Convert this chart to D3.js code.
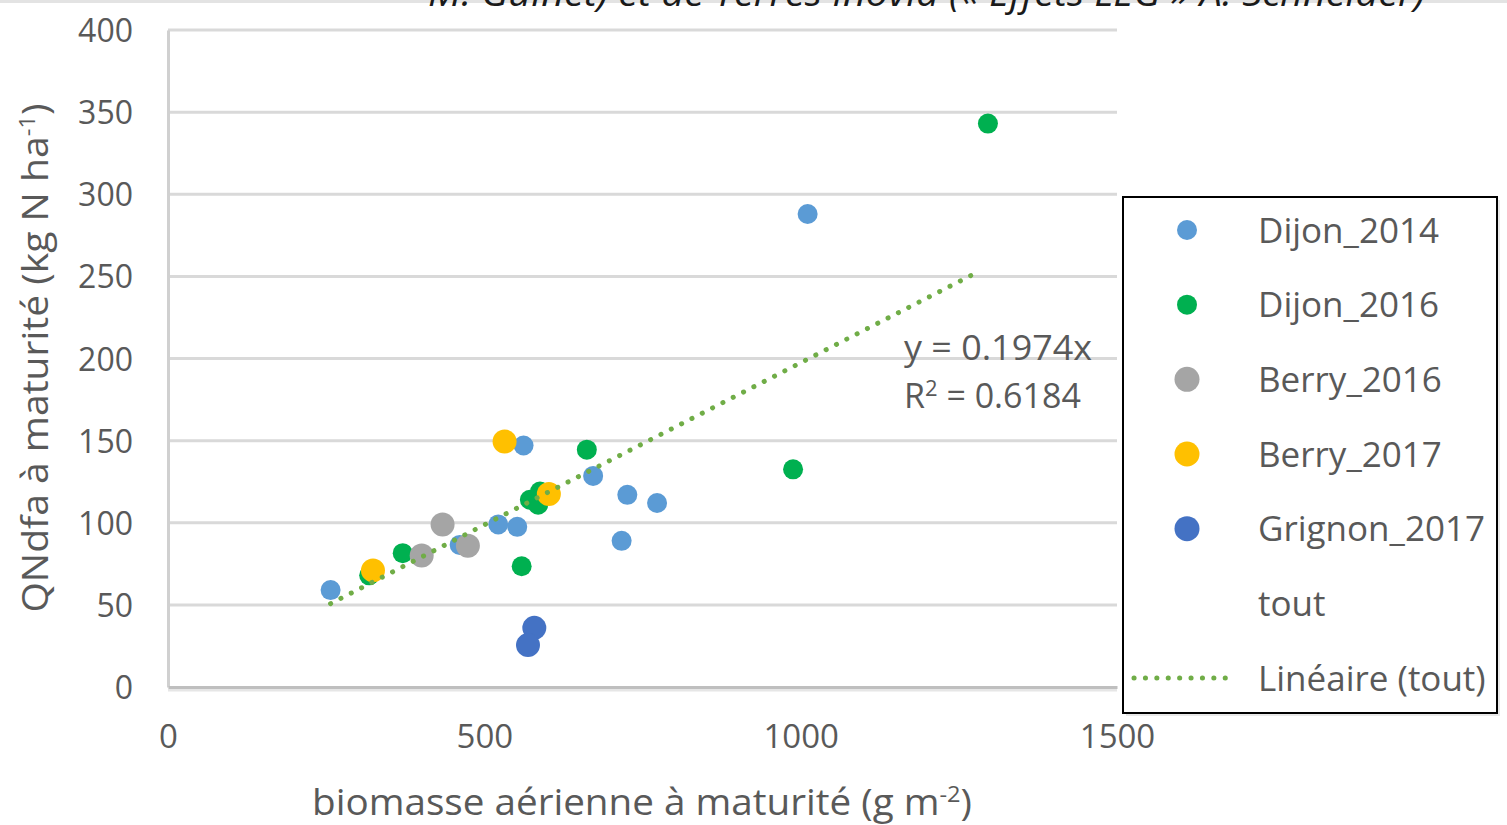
<!DOCTYPE html>
<html>
<head>
<meta charset="utf-8">
<script src="https://cdn.jsdelivr.net/npm/d3@7"></script>
<style>
  body { margin: 0; background: #fff; }
  text { font-family: "Open Sans", "Liberation Sans", sans-serif; fill: #595959; }
</style>
</head>
<body>
<div id="chart"></div>
<script>
// series values: [biomasse g m-2, QNdfa kg N ha-1]
const dijon2014 = [[257, 59], [562, 147], [672, 128.5], [726, 117], [773, 112], [717, 89], [522, 99], [552, 97.5], [461, 86.5], [1011, 288]];
const dijon2016 = [[662, 144.5], [572, 114], [588, 119], [585, 111], [371, 81.5], [318, 68], [559, 73.5], [1296, 343], [988, 132.5]];
const berry2016 = [[434, 99], [474, 86], [401, 80]];
const berry2017 = [[532, 149.5], [602, 117.5], [324, 71]];
const grignon2017 = [[579, 36], [569, 25.5]];

const seriesNames = ["Dijon_2014", "Dijon_2016", "Berry_2016", "Berry_2017", "Grignon_2017", "tout", "Linéaire (tout)"];
const xTicks = [0, 500, 1000, 1500];
const yTicks = [0, 50, 100, 150, 200, 250, 300, 350, 400];

// linear trend through origin
const slope = 0.1974;
const r2 = 0.6184;
const trendRange = [257, 1283];

const width = 1507, height = 825;

const series = [
  { name: seriesNames[0], values: dijon2014, color: "#5B9BD5", r: 10 },
  { name: seriesNames[1], values: dijon2016, color: "#00B050", r: 10 },
  { name: seriesNames[2], values: berry2016, color: "#A5A5A5", r: 12 },
  { name: seriesNames[3], values: berry2017, color: "#FFC000", r: 12 },
  { name: seriesNames[4], values: grignon2017, color: "#4472C4", r: 12 }
];

const svg = d3.select("#chart").append("svg")
  .attr("width", width)
  .attr("height", height);

const x = d3.scaleLinear().domain([0, 1500]).range([168, 1117]);
const y = d3.scaleLinear().domain([0, 400]).range([687, 30]);

// cut-off caption line at the very top (cropped in the source too)
svg.append("rect").attr("x", 0).attr("y", 0).attr("width", width).attr("height", 3).attr("fill", "#e3e3e3");
svg.append("text")
  .attr("x", 428).attr("y", 6)
  .attr("textLength", 997).attr("lengthAdjust", "spacingAndGlyphs")
  .style("font-style", "italic").style("font-size", "36px").style("fill", "#1a1a1a")
  .text("M. Guinet) et de Terres Inovia (« Effets LEG » A. Schneider)");

// gridlines
svg.append("g")
  .selectAll("line")
  .data(yTicks.filter(d => d > 0))
  .join("line")
  .attr("x1", x(0)).attr("x2", x(1500))
  .attr("y1", d => y(d)).attr("y2", d => y(d))
  .attr("stroke", "#d9d9d9").attr("stroke-width", 3);

// axes
const yAxis = d3.axisLeft(y).tickValues(yTicks).tickSize(0).tickPadding(35);
svg.append("g")
  .attr("transform", `translate(${x(0)},0)`)
  .call(yAxis)
  .call(g => g.select(".domain").attr("stroke", "#d0d0d0").attr("stroke-width", 3))
  .call(g => g.selectAll("text").style("font-size", "32px").attr("fill", "#595959").attr("dy", "0.36em"));

const xAxis = d3.axisBottom(x).tickValues(xTicks).tickSize(0).tickPadding(38).tickFormat(d3.format("d"));
svg.append("line")
  .attr("x1", x(0)).attr("x2", x(1500)).attr("y1", y(0) + 3).attr("y2", y(0) + 3)
  .attr("stroke", "#e6e6e6").attr("stroke-width", 3);
svg.append("g")
  .attr("transform", `translate(0,${y(0)})`)
  .call(xAxis)
  .call(g => g.select(".domain").attr("stroke", "#bfbfbf").attr("stroke-width", 3))
  .call(g => g.selectAll("text").style("font-size", "33px").attr("fill", "#595959"));

// axis titles
svg.append("text")
  .attr("text-anchor", "middle")
  .attr("x", 642).attr("y", 815)
  .attr("textLength", 660).attr("lengthAdjust", "spacingAndGlyphs")
  .style("font-size", "36px")
  .html("biomasse aérienne à maturité (g m<tspan dy='-13' font-size='22px'>-2</tspan><tspan dy='13'>)</tspan>");

svg.append("text")
  .attr("text-anchor", "middle")
  .attr("transform", "translate(48,358) rotate(-90)")
  .attr("textLength", 509).attr("lengthAdjust", "spacingAndGlyphs")
  .style("font-size", "36px")
  .html("QNdfa à maturité (kg N ha<tspan dy='-13' font-size='22px'>-1</tspan><tspan dy='13'>)</tspan>");

// points
series.forEach(s => {
  svg.append("g")
    .selectAll("circle")
    .data(s.values)
    .join("circle")
    .attr("cx", d => x(d[0]))
    .attr("cy", d => y(d[1]))
    .attr("r", s.r)
    .attr("fill", s.color);
});

// trend line
svg.append("line")
  .attr("x1", x(trendRange[0])).attr("y1", y(trendRange[0] * slope))
  .attr("x2", x(trendRange[1])).attr("y2", y(trendRange[1] * slope))
  .attr("stroke", "#70AD47").attr("stroke-width", 5)
  .attr("stroke-linecap", "round").attr("stroke-dasharray", "0.1 11.5");

svg.append("text").attr("x", 904).attr("y", 360).style("font-size", "34px")
  .attr("textLength", 188).attr("lengthAdjust", "spacingAndGlyphs")
  .text("y = " + slope + "x");
svg.append("text").attr("x", 904).attr("y", 408).style("font-size", "34px")
  .html("R<tspan dy='-12' font-size='22px'>2</tspan><tspan dy='12'> = " + r2 + "</tspan>");

// legend
const legend = svg.append("g");
legend.append("rect").attr("x", 1126).attr("y", 200).attr("width", 374).attr("height", 516).attr("fill", "#e8e8e8");
legend.append("rect").attr("x", 1123).attr("y", 197).attr("width", 374).attr("height", 516)
  .attr("fill", "#fff").attr("stroke", "#000").attr("stroke-width", 2);

const rowY = d3.scaleLinear().domain([0, seriesNames.length - 1]).range([230, 678]);
seriesNames.forEach((name, i) => {
  const s = series[i];
  if (s) {
    legend.append("circle").attr("cx", 1187).attr("cy", rowY(i)).attr("r", s.r === 10 ? 10 : 12.5).attr("fill", s.color);
  }
  if (name.startsWith("Linéaire")) {
    legend.append("line")
      .attr("x1", 1134).attr("x2", 1236).attr("y1", rowY(i)).attr("y2", rowY(i))
      .attr("stroke", "#70AD47").attr("stroke-width", 5)
      .attr("stroke-linecap", "round").attr("stroke-dasharray", "0.1 11.3");
  }
  legend.append("text")
    .attr("x", 1258).attr("y", rowY(i)).attr("dy", "0.36em")
    .style("font-size", "35px")
    .text(name);
});
</script>
</body>
</html>
